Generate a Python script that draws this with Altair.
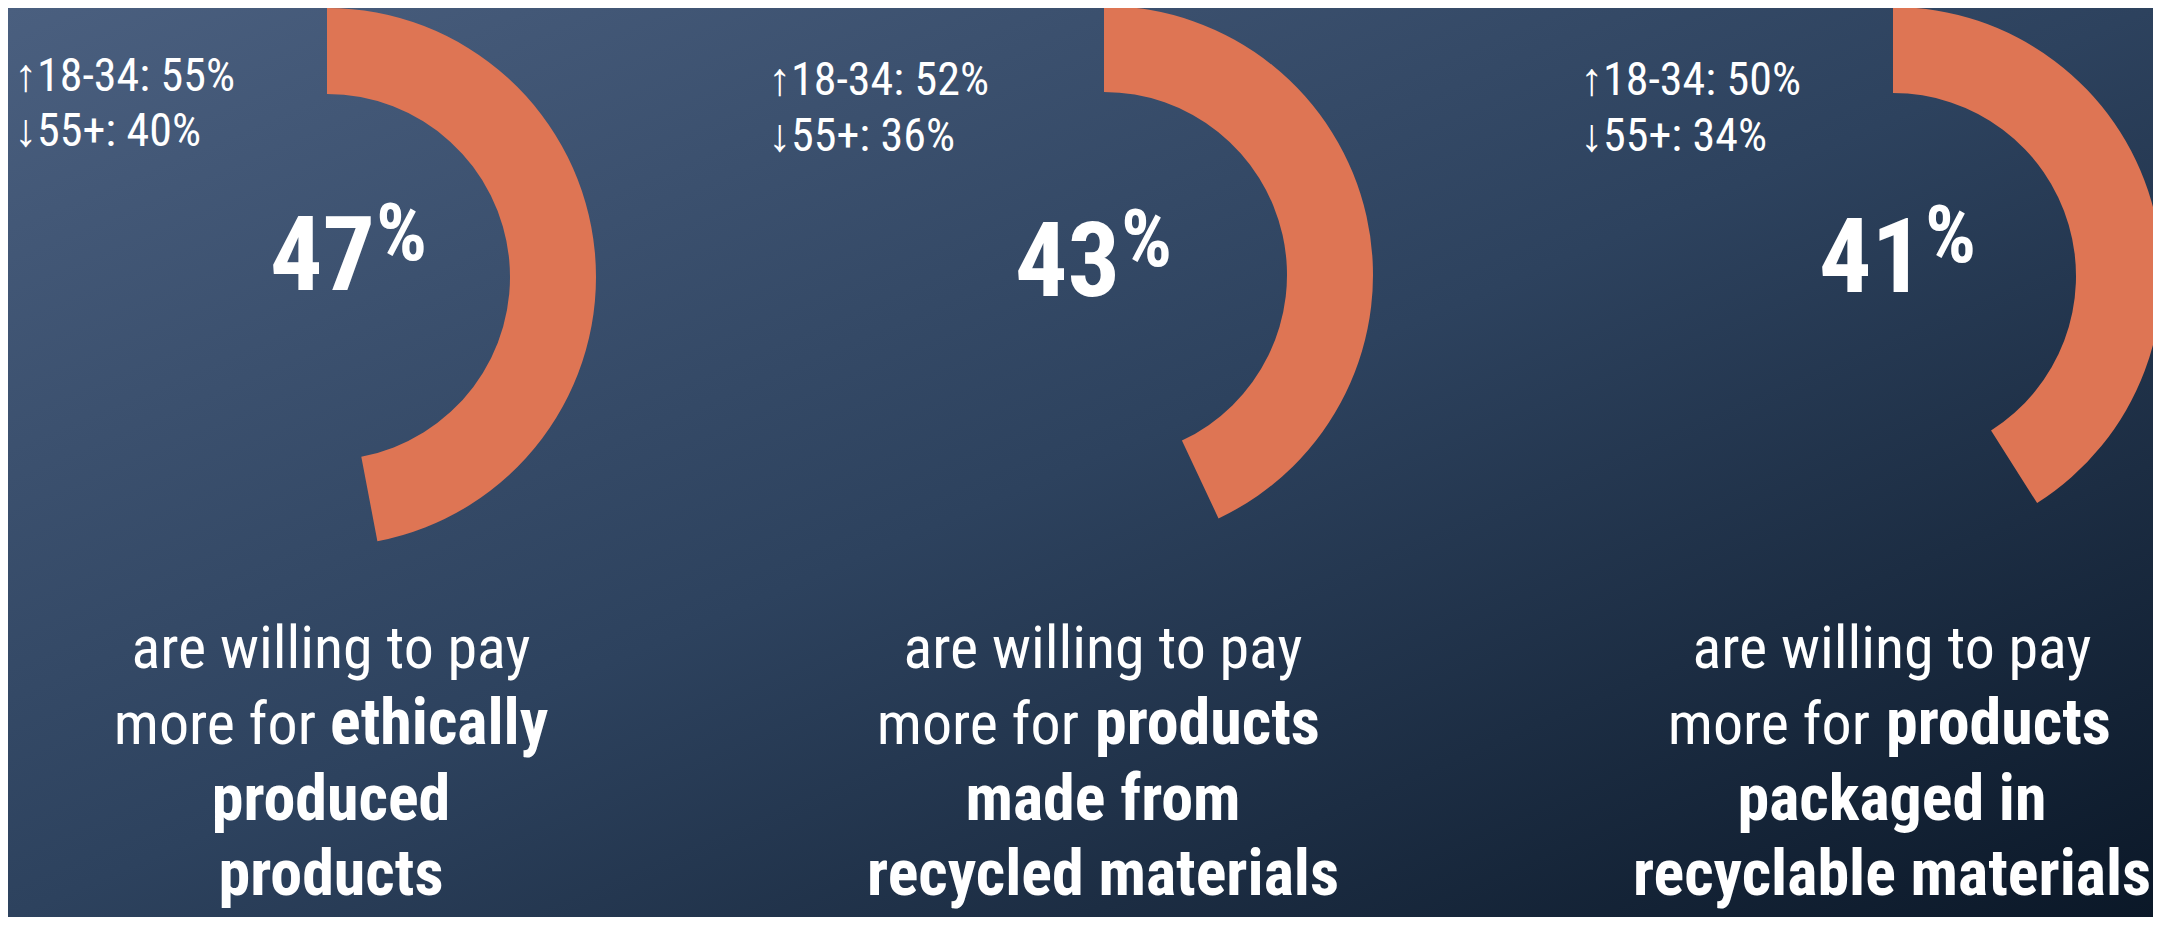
import math
import altair as alt
import pandas as pd

# ---------------- data ----------------
totals = [47, 43, 41]              # overall share willing to pay more (%)
young = [55, 52, 50]               # 18-34 share (%)
older = [40, 36, 34]               # 55+ share (%)
caption_line1 = ["are willing to pay", "are willing to pay", "are willing to pay"]
caption_regular = ["more for", "more for", "more for"]
caption_bold2 = ["ethically", "products", "products"]
caption_bold3 = ["produced", "made from", "packaged in"]
caption_bold4 = ["products", "recycled materials", "recyclable materials"]

# ---------------- layout (reference pixel coordinates) ----------------
OFF = 8
W, H = 2161 - 2 * OFF, 925 - 2 * OFF
arc_cx = [327, 1104, 1893]
arc_cy = [277, 275, 276]
pct_x = [375, 1120, 1924]
pct_base = [290, 296, 292]
small_x = [14, 768, 1580]
small_base1 = [91, 95, 95]
small_base2 = [146, 151, 151]
cap_cx = [331, 1103, 1892]
split_reg = [316, 1079, 1870]
split_bold = [330, 1095, 1886]
cap_base = [668, 744, 820, 895]

FONT = "Roboto Condensed, Liberation Sans Narrow, Arial Narrow, Liberation Sans, sans-serif"
ORANGE = "#de7554"
WHITE = "#ffffff"


def P(v):
    return v - OFF


def text_layer(text, x, y, size, weight="normal", align="left"):
    return alt.Chart(pd.DataFrame({"t": [text]})).mark_text(
        font=FONT, fontSize=size, fontWeight=weight, align=align,
        baseline="alphabetic", color=WHITE,
    ).encode(text="t:N", x=alt.value(P(x)), y=alt.value(P(y)))


gradient = alt.LinearGradient(
    gradient="linear",
    stops=[
        alt.GradientStop(color="#4a5f7f", offset=0),
        alt.GradientStop(color="#2d425e", offset=0.5),
        alt.GradientStop(color="#0b1828", offset=1),
    ],
    x1=0, y1=0, x2=1, y2=1,
)

layers = [
    alt.Chart(pd.DataFrame({"k": [0]})).mark_rect(fill=gradient, strokeWidth=0).encode(
        x=alt.value(0), x2=alt.value(W), y=alt.value(0), y2=alt.value(H)
    )
]

for i in range(3):
    df = pd.DataFrame({"share": [totals[i] / 100.0]})
    layers.append(
        alt.Chart(df).mark_arc(innerRadius=183, outerRadius=269, color=ORANGE, clip=True).encode(
            theta=alt.Theta("share:Q", scale=alt.Scale(domain=[0, 1], range=[0, 2 * math.pi]), stack=True),
            x=alt.value(P(arc_cx[i])),
            y=alt.value(P(arc_cy[i])),
        )
    )
    layers.append(text_layer(str(totals[i]), pct_x[i], pct_base[i], 104, "bold", "right"))
    layers.append(text_layer("%", pct_x[i] + 1, pct_base[i] - 30, 80, "bold", "left"))
    layers.append(text_layer(f"\u219118-34: {young[i]}%", small_x[i], small_base1[i], 46))
    layers.append(text_layer(f"\u219355+: {older[i]}%", small_x[i], small_base2[i], 46))
    layers.append(text_layer(caption_line1[i], cap_cx[i], cap_base[0], 60, "normal", "center"))
    layers.append(text_layer(caption_regular[i], split_reg[i], cap_base[1], 60, "normal", "right"))
    layers.append(text_layer(caption_bold2[i], split_bold[i], cap_base[1], 64, "bold", "left"))
    layers.append(text_layer(caption_bold3[i], cap_cx[i], cap_base[2], 64, "bold", "center"))
    layers.append(text_layer(caption_bold4[i], cap_cx[i], cap_base[3], 64, "bold", "center"))

chart = alt.layer(*layers).properties(
    width=W, height=H, autosize=alt.AutoSizeParams(type="none"), padding=0,
    background="#2d425e",
).configure_view(strokeWidth=0)

chart.save("out.html", embed_options={"renderer": "svg", "actions": False})
